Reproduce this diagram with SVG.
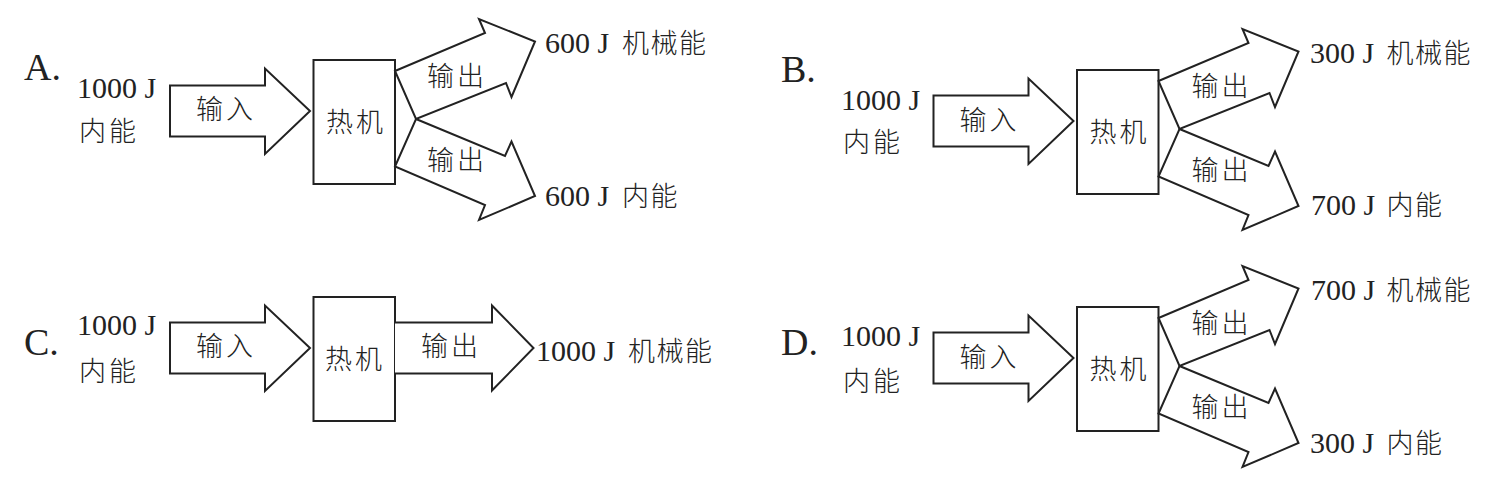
<svg xmlns="http://www.w3.org/2000/svg" width="1505" height="488" viewBox="0 0 1505 488">
<style>
.sh{fill:#fff;stroke:#222;stroke-width:2;stroke-linejoin:miter}
.lat{font-family:"Liberation Serif","Noto Sans CJK SC",serif;font-size:30px;fill:#222}
.lab{font-family:"Liberation Serif",serif;font-size:38px;fill:#222}
.cjk{font-family:"Noto Sans CJK SC",sans-serif;font-size:27px;letter-spacing:3px;font-weight:300;fill:#222}
.cr{letter-spacing:1.5px}
</style>
<rect width="1505" height="488" fill="#fff"/>

<g id="panel-a">
  <text class="lab" x="24" y="80">A.</text>
  <g id="a-source"><text class="lat" x="77" y="98">1000 J</text><text class="cjk" x="79" y="141">内能</text></g>
  <g id="a-engine"><rect class="sh" x="313.5" y="60" width="81.5" height="124"/><text class="cjk" x="326" y="132">热机</text></g>
  <g id="a-mech"><text class="lat" x="545" y="53">600 J <tspan class="cjk cr" x="622">机械能</tspan></text></g>
  <g id="a-heat"><text class="lat" x="545" y="206">600 J <tspan class="cjk cr" x="622">内能</tspan></text></g>
  <g id="a-connectors">
    <polygon class="sh" points="170,85.5 265,85.5 265,68.5 310,111 265,154 265,136.5 170,136.5"/>
    <text class="cjk" x="196" y="119">输入</text>
    <polygon class="sh" points="395,71 485,33 479,19 535,41.5 511.5,97 506,83 416,119"/>
    <polygon class="sh" points="416,119 505,156 511.5,141.5 535,196 479,220 485,205 395,166.5"/>
    <text class="cjk" x="427" y="86">输出</text>
    <text class="cjk" x="427" y="170">输出</text>
  </g>
</g>

<g id="panel-b" transform="translate(763.5,10)">
  <text class="lab" x="17.5" y="72">B.</text>
  <g id="b-source"><text class="lat" x="77.5" y="100">1000 J</text><text class="cjk" x="79.5" y="142">内能</text></g>
  <g id="b-engine"><rect class="sh" x="313.5" y="60" width="81.5" height="124"/><text class="cjk" x="326" y="132">热机</text></g>
  <g id="b-mech"><text class="lat" x="546.5" y="53">300 J <tspan class="cjk cr" x="623">机械能</tspan></text></g>
  <g id="b-heat"><text class="lat" x="547.5" y="205">700 J <tspan class="cjk cr" x="623">内能</tspan></text></g>
  <g id="b-connectors">
    <polygon class="sh" points="170,85.5 265,85.5 265,68.5 310,111 265,154 265,136.5 170,136.5"/>
    <text class="cjk" x="196" y="120">输入</text>
    <polygon class="sh" points="395,71 485,33 479,19 535,41.5 511.5,97 506,83 416,119"/>
    <polygon class="sh" points="416,119 505,156 511.5,141.5 535,196 479,220 485,205 395,166.5"/>
    <text class="cjk" x="428" y="86">输出</text>
    <text class="cjk" x="428" y="170">输出</text>
  </g>
</g>

<g id="panel-c" transform="translate(0,237)">
  <text class="lab" x="24" y="118">C.</text>
  <g id="c-source"><text class="lat" x="77" y="98">1000 J</text><text class="cjk" x="79" y="144">内能</text></g>
  <g id="c-engine"><rect class="sh" x="313.5" y="60" width="81.5" height="124"/><text class="cjk" x="325" y="132">热机</text></g>
  <g id="c-mech"><text class="lat" x="536" y="124">1000 J <tspan class="cjk cr" x="628">机械能</tspan></text></g>
  <g id="c-connectors">
    <polygon class="sh" points="170,85.5 265,85.5 265,68.5 310,111 265,154 265,136.5 170,136.5"/>
    <text class="cjk" x="196" y="119">输入</text>
    <polyline class="sh" points="395,85.5 492,85.5 492,68.5 533.5,111 492,153.5 492,136.5 395,136.5"/>
    <text class="cjk" x="421" y="119">输出</text>
  </g>
</g>

<g id="panel-d" transform="translate(763.5,247)">
  <text class="lab" x="17.5" y="108">D.</text>
  <g id="d-source"><text class="lat" x="77.5" y="99">1000 J</text><text class="cjk" x="79.5" y="144">内能</text></g>
  <g id="d-engine"><rect class="sh" x="313.5" y="60" width="81.5" height="124"/><text class="cjk" x="326" y="132">热机</text></g>
  <g id="d-mech"><text class="lat" x="547.5" y="53">700 J <tspan class="cjk cr" x="623">机械能</tspan></text></g>
  <g id="d-heat"><text class="lat" x="546.5" y="206">300 J <tspan class="cjk cr" x="623">内能</tspan></text></g>
  <g id="d-connectors">
    <polygon class="sh" points="170,85.5 265,85.5 265,68.5 310,111 265,154 265,136.5 170,136.5"/>
    <text class="cjk" x="196" y="120">输入</text>
    <polygon class="sh" points="395,71 485,33 479,19 535,41.5 511.5,97 506,83 416,119"/>
    <polygon class="sh" points="416,119 505,156 511.5,141.5 535,196 479,220 485,205 395,166.5"/>
    <text class="cjk" x="428" y="86">输出</text>
    <text class="cjk" x="428" y="170">输出</text>
  </g>
</g>
</svg>
